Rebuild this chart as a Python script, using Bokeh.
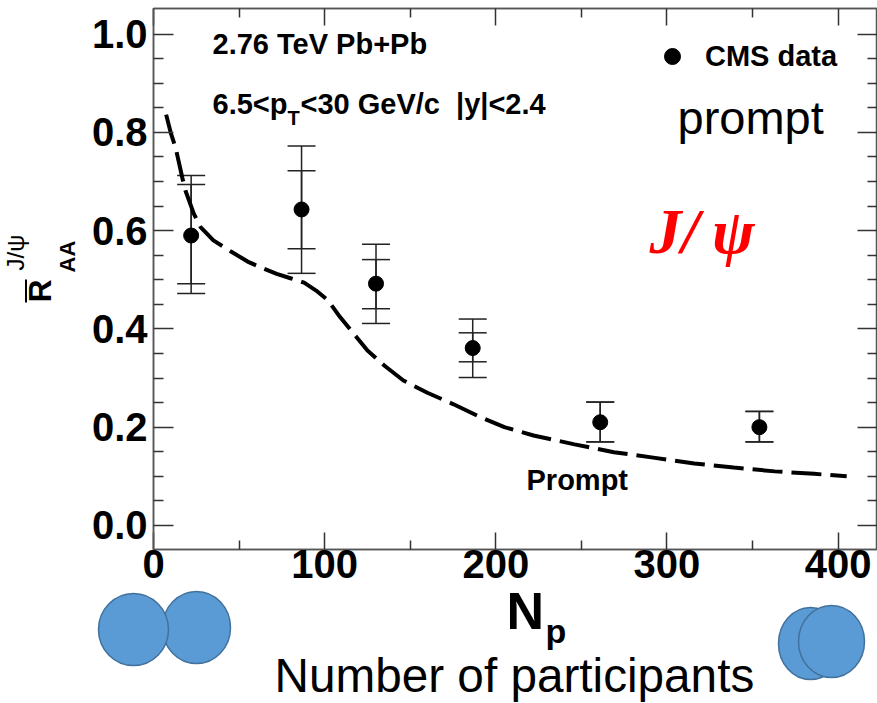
import numpy as np
from bokeh.plotting import figure
from bokeh.layouts import column
from bokeh.models import (Range1d, FixedTicker, LinearAxis, PrintfTickFormatter, Whisker,
                          TeeHead, ColumnDataSource, Label, Legend, LegendItem, GridBox)
from bokeh.embed import file_html
from bokeh.resources import INLINE

# ---------------- data ----------------
n_part = [22, 86.5, 130, 186.5, 261, 354]
raa = [0.590, 0.643, 0.492, 0.361, 0.210, 0.200]
tot_hi = [0.712, 0.772, 0.572, 0.420, 0.251, 0.232]
tot_lo = [0.472, 0.513, 0.411, 0.301, 0.170, 0.170]
inner_hi = [0.694, 0.722, 0.541, 0.392, 0.251, 0.232]
inner_lo = [0.492, 0.563, 0.441, 0.333, 0.170, 0.170]

model_np = [7.4, 10, 12.9, 16.8, 18.7, 23.6, 27.5, 35, 45, 55, 64, 72, 80, 88, 95, 102, 109,
            117, 125, 135, 146, 160, 175, 190, 205, 222, 246, 269, 292, 316, 339, 363, 386, 405]
model_raa = [0.836, 0.800, 0.769, 0.708, 0.681, 0.634, 0.607, 0.580, 0.558, 0.537, 0.523, 0.512,
             0.503, 0.494, 0.478, 0.458, 0.424, 0.390, 0.356, 0.325, 0.295, 0.270, 0.247, 0.222,
             0.200, 0.183, 0.165, 0.149, 0.138, 0.126, 0.118, 0.110, 0.105, 0.100]

x_ticks = [0, 100, 200, 300, 400]
x_minor = [50, 150, 250, 350]
y_ticks = [0.0, 0.2, 0.4, 0.6, 0.8, 1.0]
y_minor = [0.05, 0.1, 0.15, 0.25, 0.3, 0.35, 0.45, 0.5, 0.55, 0.65, 0.7, 0.75, 0.85, 0.9, 0.95]

# ---------------- geometry ----------------
W, H = 877, 703
FL, FT, FB = 153, 8, 549
K = 0.42           # baseline correction (fraction of font size)

# ---------------- main figure ----------------
p = figure(width=W, height=H, output_backend="svg", toolbar_location=None,
           x_range=Range1d(0, 423), y_range=Range1d(-0.049, 1.052),
           min_border_left=FL, min_border_top=FT, min_border_bottom=H - FB,
           min_border_right=0)
p.background_fill_color = "white"
p.border_fill_color = "white"
p.outline_line_color = "#555555"
p.outline_line_width = 1.5
p.xgrid.visible = False
p.ygrid.visible = False

AX = "#555555"
TK = "#333333"


def style_axis(ax, ticks, minor, tin, mtin, labels=True, fmt=None):
    ax.ticker = FixedTicker(ticks=ticks, minor_ticks=minor)
    ax.axis_line_color = AX
    ax.axis_line_width = 1.5
    ax.major_tick_line_color = TK
    ax.minor_tick_line_color = TK
    ax.major_tick_line_width = 1.5
    ax.minor_tick_line_width = 1.5
    ax.major_tick_in = tin
    ax.major_tick_out = 0
    ax.minor_tick_in = mtin
    ax.minor_tick_out = 0
    if fmt is not None:
        ax.formatter = fmt
    if labels:
        ax.major_label_text_font = "Liberation Sans"
        ax.major_label_text_font_style = "bold"
        ax.major_label_text_font_size = "40px"
        ax.major_label_text_color = "black"
    else:
        ax.major_label_text_font_size = "0px"
        ax.major_label_text_alpha = 0


style_axis(p.xaxis[0], x_ticks, x_minor, 17, 9)
p.xaxis[0].major_label_standoff = 0
style_axis(p.yaxis[0], y_ticks, y_minor, 20, 10, fmt=PrintfTickFormatter(format="%.1f"))
p.yaxis[0].major_label_standoff = 6

top = LinearAxis()
style_axis(top, x_ticks, x_minor, 17, 9, labels=False)
p.add_layout(top, "above")
right = LinearAxis()
style_axis(right, y_ticks, y_minor, 20, 10, labels=False)
p.add_layout(right, "right")

# model curve
p.line(model_np, model_raa, line_color="black", line_width=4, line_dash="30 9")

# error bars + points
src = ColumnDataSource(dict(x=n_part, y=raa, thi=tot_hi, tlo=tot_lo, ihi=inner_hi, ilo=inner_lo))
EB = "#222222"
for hi, lo in (("thi", "tlo"), ("ihi", "ilo")):
    p.add_layout(Whisker(base="x", upper=hi, lower=lo, source=src, dimension="height",
                         line_color=EB, line_width=1.5,
                         upper_head=TeeHead(size=28, line_color=EB, line_width=1.5),
                         lower_head=TeeHead(size=28, line_color=EB, line_width=1.5)))
pts = p.scatter("x", "y", source=src, size=15, color="black")

legend = Legend(items=[LegendItem(label="CMS data", renderers=[pts])],
                location=(652 - FL, FB - 76), glyph_width=40, glyph_height=40,
                label_standoff=13, padding=0, margin=0, border_line_color=None,
                background_fill_alpha=0, label_text_font="Liberation Sans",
                label_text_font_style="bold", label_text_font_size="29px",
                label_text_color="black")
p.add_layout(legend)

# ---------------- transparent overlay for annotations (pixel coordinates) ----------------
d = figure(width=W, height=H, output_backend="svg", toolbar_location=None,
           x_range=Range1d(0, W), y_range=Range1d(H, 0), x_axis_type=None, y_axis_type=None,
           min_border=0, outline_line_color=None)
d.xgrid.visible = False
d.ygrid.visible = False
d.background_fill_alpha = 0
d.border_fill_alpha = 0


def lab(text, cx, cy, size, style="normal", color="black", font="Liberation Sans", rot=False):
    if rot:
        x, y, ang = cx - K * size, cy, np.pi / 2
    else:
        x, y, ang = cx, cy - K * size, 0.0
    d.add_layout(Label(x=x, y=y, x_units="data", y_units="data", text=text,
                       text_font=font, text_font_size=f"{size}px", text_font_style=style,
                       text_color=color, angle=ang, text_align="left",
                       text_baseline="alphabetic"))


lab("2.76 TeV Pb+Pb", 212, 56, 29, "bold")
lab("6.5<p", 212, 116, 29, "bold")
lab("T", 287, 126, 20, "bold")
lab("<30 GeV/c \u00a0|y|<2.4", 300, 116, 29, "bold")
lab("prompt", 677, 137, 47)
lab("J/\u2009\u03c8", 649, 258, 64, "bold italic", "#ff0000", "Liberation Serif")
lab("Prompt", 526, 492, 29, "bold")
lab("N", 506, 632, 52, "bold")
lab("p", 545, 645, 34, "bold")
lab("Number of participants", 274, 695, 47.7)

# y-axis title (rotated)
lab("R", 53, 302, 32, "bold", rot=True)
lab("AA", 76, 272, 22, "bold", rot=True)
lab("J/\u03c8", 25, 270, 24, rot=True)
d.segment(x0=[25.5], y0=[279], x1=[25.5], y1=[302], line_color="black", line_width=2)

# colliding-nuclei pictograms
NUC_FILL, NUC_LINE = "#5B9BD5", "#41719C"
nuclei_x = [196, 133, 810, 831]
nuclei_y = [627, 629, 643, 641]
nuclei_w = [68, 70, 64, 66]
nuclei_h = [72, 72, 72, 72]
d.ellipse(x=nuclei_x, y=nuclei_y, width=nuclei_w, height=nuclei_h,
          fill_color=NUC_FILL, line_color=NUC_LINE, line_width=1.5)

layout = GridBox(children=[(p, 0, 0), (column(d), 0, 0)])
open("out.html", "w").write(file_html(layout, INLINE))
